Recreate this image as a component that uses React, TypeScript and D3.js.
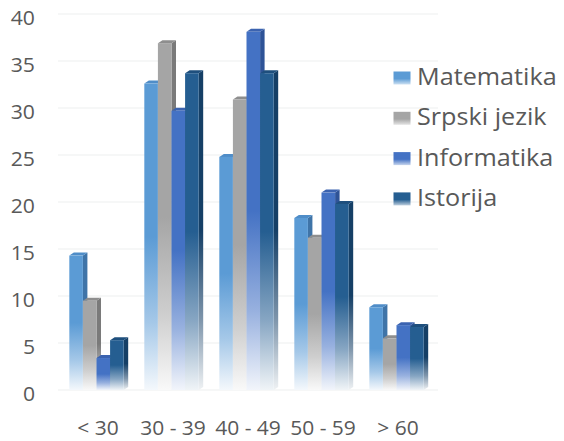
import React from "react";
import * as d3 from "d3";

const categories = ["< 30", "30 - 39", "40 - 49", "50 - 59", "> 60"];
const seriesNames = ["Matematika", "Srpski jezik", "Informatika", "Istorija"];
const matematika = [14.3, 32.6, 24.8, 18.3, 8.8];
const srpskiJezik = [9.5, 36.9, 30.9, 16.2, 5.5];
const informatika = [3.4, 29.7, 38.1, 21.0, 6.9];
const istorija = [5.3, 33.7, 33.7, 19.8, 6.7];
const yTicks = [0, 5, 10, 15, 20, 25, 30, 35, 40];

const seriesValues = [matematika, srpskiJezik, informatika, istorija];

// front / side / top shades per series
const palette = [
  { front: "#5B9BD5", side: "#3F74A8", top: "#4F8DC8" },
  { front: "#A5A5A5", side: "#7A7A7A", top: "#8E8E8E" },
  { front: "#4472C4", side: "#2E5397", top: "#3B63B0" },
  { front: "#255E91", side: "#153F66", top: "#1E4F7D" },
];

const W = 564;
const H = 441;
const FONT = "'Open Sans', 'Noto Sans', sans-serif";
const TEXT = "#595959";

const DX = 4.5; // depth offset of the bar sides
const DY = 3;

function fade(c: string, t: number) {
  return d3.interpolateRgb(c, "#ffffff")(t);
}

// text with a slight horizontal stretch
function WideText(props: {
  x: number;
  y: number;
  size: number;
  sx: number;
  anchor?: "start" | "middle" | "end";
  children: React.ReactNode;
}) {
  return (
    <text
      transform={`translate(${props.x},${props.y}) scale(${props.sx},1)`}
      textAnchor={props.anchor || "start"}
      fontFamily={FONT}
      fontSize={props.size}
      fill={TEXT}
    >
      {props.children}
    </text>
  );
}

export default function App() {
  const y = d3.scaleLinear().domain([0, 40]).range([390, 14]);
  const x0 = d3
    .scaleBand<string>()
    .domain(categories)
    .range([59, 434])
    .paddingInner(0.275)
    .paddingOuter(0.1375);
  const x1 = d3
    .scaleBand<string>()
    .domain(seriesNames)
    .range([0, x0.bandwidth()]);

  const gridX0 = 58;
  const gridX1 = 438;

  return (
    <svg width={W} height={H} style={{ position: "absolute", left: 0, top: 0, background: "#fff" }}>
      <defs>
        {palette.map((p, i) => (
          <React.Fragment key={i}>
            {(["front", "side", "top"] as const).map((k) => (
              <linearGradient key={k} id={`g-${i}-${k}`} x1="0" y1="0" x2="0" y2="1">
                <stop offset="0" stopColor={p[k]} />
                <stop offset="0.5" stopColor={p[k]} />
                <stop offset="0.78" stopColor={fade(p[k], 0.45)} />
                <stop offset="1" stopColor={fade(p[k], 0.93)} />
              </linearGradient>
            ))}
          </React.Fragment>
        ))}
        {palette.map((p, i) => (
          <linearGradient key={`lg${i}`} id={`lg-${i}`} x1="0" y1="0" x2="0" y2="1">
            <stop offset="0" stopColor={p.front} />
            <stop offset="0.55" stopColor={p.front} />
            <stop offset="1" stopColor={fade(p.front, 0.7)} />
          </linearGradient>
        ))}
      </defs>

      {/* gridlines */}
      {yTicks.map((t) => (
        <line
          key={`grid${t}`}
          x1={gridX0}
          x2={gridX1}
          y1={y(t)}
          y2={y(t)}
          stroke="#EDEFF0"
          strokeWidth={1.2}
        />
      ))}

      {/* y tick labels */}
      {yTicks.map((t) => (
        <WideText key={`yt${t}`} x={35} y={y(t) + 11} size={20} sx={1.06} anchor="end">
          {t}
        </WideText>
      ))}

      {/* bars */}
      {categories.map((c, ci) => (
        <g key={c} transform={`translate(${x0(c)},0)`}>
          {seriesNames.map((s, si) => {
            const v = seriesValues[si][ci];
            const bx = x1(s) as number;
            const bw = x1.bandwidth();
            const top = y(v);
            const bottom = y(0);
            const sidePts = [
              [bx + bw, top],
              [bx + bw + DX, top - DY],
              [bx + bw + DX, bottom - DY],
              [bx + bw, bottom],
            ];
            const topPts = [
              [bx, top],
              [bx + DX, top - DY],
              [bx + bw + DX, top - DY],
              [bx + bw, top],
            ];
            return (
              <g key={s}>
                <polygon
                  points={sidePts.map((p) => p.join(",")).join(" ")}
                  fill={`url(#g-${si}-side)`}
                />
                <polygon points={topPts.map((p) => p.join(",")).join(" ")} fill={palette[si].top} />
                <rect x={bx} y={top} width={bw} height={bottom - top} fill={`url(#g-${si}-front)`} />
              </g>
            );
          })}
        </g>
      ))}

      {/* category labels */}
      {categories.map((c) => (
        <WideText
          key={`xl${c}`}
          x={(x0(c) as number) + x0.bandwidth() / 2 + 1.5}
          y={435}
          size={20}
          sx={1.05}
          anchor="middle"
        >
          {c}
        </WideText>
      ))}

      {/* legend */}
      {seriesNames.map((s, i) => {
        const base = 85 + i * 40.3;
        return (
          <g key={`lg${s}`}>
            <rect x={393.5} y={base - 13.5} width={17} height={13} fill={`url(#lg-${i})`} />
            <WideText x={417} y={base} size={24} sx={1.05}>
              {s}
            </WideText>
          </g>
        );
      })}
    </svg>
  );
}
